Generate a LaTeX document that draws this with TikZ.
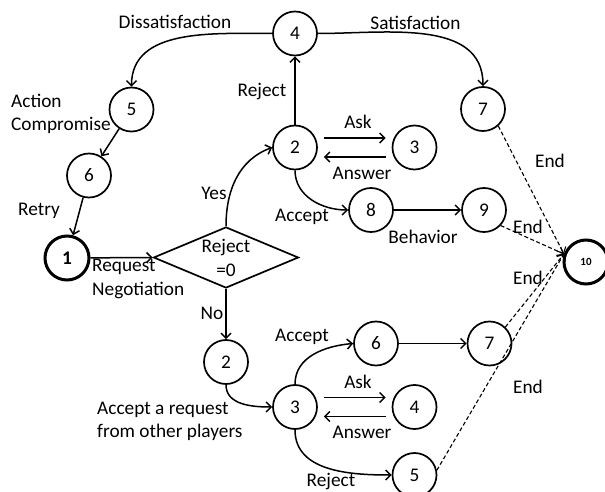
\documentclass[tikz,border=0pt]{standalone}
\usepackage{fontspec}
\setmainfont{Carlito}
\usetikzlibrary{shapes.geometric,arrows.meta}
\begin{document}
\begin{tikzpicture}[x=1pt,y=1pt,
  every node/.style={font=\fontsize{19.3}{23.5}\selectfont},
  st/.style={circle,draw,line width=1.7pt,minimum size=44pt,inner sep=0pt},
  stthick/.style={st,line width=3pt},
  lbl/.style={inner sep=0pt},
  arr/.style={line width=1.5pt,-{Straight Barb[length=5pt,width=10pt]}},
  dsh/.style={line width=1.1pt,dash pattern=on 4pt off 2.5pt,-{Straight Barb[length=5pt,width=10pt]}},
  ]
\useasboundingbox (0,0) rectangle (605,-492);
% states
\node[st] (n4) at (295,-33.5) {4};
\node[st] (n5) at (131.5,-109.5) {5};
\node[st] (n6) at (89,-175.5) {6};
\node[stthick,font=\bfseries\fontsize{19.3}{23.5}\selectfont] (n1) at (67,-258) {1};
\node[diamond,draw,line width=1.7pt,minimum width=145pt,minimum height=61pt,inner sep=0pt] (dia) at (226,-257.5) {};
\node[lbl,align=center] (dtext) at (226,-258) {Reject\\=0};
\node[st] (u2) at (295,-147.5) {2};
\node[st] (u3) at (414.5,-147.5) {3};
\node[st] (u7) at (483,-109) {7};
\node[st] (u8) at (371,-210) {8};
\node[st] (u9) at (484,-210) {9};
\node[stthick,font=\bfseries\fontsize{11}{13}\selectfont] (n10) at (586,-262) {10};
\node[st] (l2) at (226,-362) {2};
\node[st] (l3) at (295,-407) {3};
\node[st] (l4) at (414.5,-407) {4};
\node[st] (l5) at (414.5,-475) {5};
\node[st] (l6) at (376,-343.5) {6};
\node[st] (l7) at (489.5,-343.5) {7};
% labels
\node[lbl] (tDis) at (175,-22) {Dissatisfaction};
\node[lbl] (tSat) at (415.5,-23) {Satisfaction};
\node[lbl] (tRej1) at (262,-92) {Reject};
\node[lbl,anchor=west,align=left] (tAct) at (11,-114) {Action\\Compromise};
\node[lbl] (tRetry) at (39,-211) {Retry};
\node[lbl] (tYes) at (214,-193) {Yes};
\node[lbl] (tAsk1) at (358,-122) {Ask};
\node[lbl] (tAns1) at (362,-173) {Answer};
\node[lbl] (tAcc1) at (302,-217) {Accept};
\node[lbl] (tBeh) at (423,-237) {Behavior};
\node[lbl] (tEnd1) at (550,-161) {End};
\node[lbl] (tEnd2) at (528,-227) {End};
\node[lbl] (tEnd3) at (528,-278) {End};
\node[lbl] (tEnd4) at (528,-387) {End};
\node[lbl,anchor=west,align=left] (tReq) at (92,-279) {Request\\Negotiation};
\node[lbl] (tNo) at (212,-313) {No};
\node[lbl] (tAcc2) at (302,-337) {Accept};
\node[lbl] (tAsk2) at (358,-382) {Ask};
\node[lbl] (tAns2) at (362,-432) {Answer};
\node[lbl,anchor=west,align=left] (tAccReq) at (97,-421.5) {Accept a request\\from other players};
\node[lbl] (tRej2) at (331,-482) {Reject};
% connectors
\draw[arr] (n4.west) to[out=180,in=90] (n5.north);
\draw[arr] (n4.east) to[out=0,in=90] (u7.north);
\draw[arr] (n5) -- (n6);
\draw[arr] (n6) -- (n1);
\draw[arr] (n1) -- (dia.west);
\draw[arr] (dia.north) to[out=90,in=200] (u2.west);
\draw[arr] (u2) -- (n4);
\draw[arr] ([shift={(6,9.5)}]u2.east) -- ([shift={(-6,9.5)}]u3.west);
\draw[arr] ([shift={(-6,-9.5)}]u3.west) -- ([shift={(6,-9.5)}]u2.east);
\draw[arr] (u2.south) to[out=-90,in=180] (u8.west);
\draw[arr] (u8) -- (u9);
\draw[arr] (dia.south) -- (l2);
\draw[arr] (l2.south) to[out=-90,in=180] (l3.west);
\draw[arr] (l3.north) to[out=90,in=185] (l6.west);
\draw[arr] (l3.south) to[out=-90,in=180] (l5.west);
\draw[arr] (l6) -- (l7);
\draw[arr] ([shift={(6,9.5)}]l3.east) -- ([shift={(-6,9.5)}]l4.west);
\draw[arr] ([shift={(-6,-9.5)}]l4.west) -- ([shift={(6,-9.5)}]l3.east);
\draw[dsh] (u7.-48) -- (n10.160);
\draw[dsh] (u9.-43) -- (n10.160);
\draw[dsh] (l7.46) -- (n10.160);
\draw[dsh] (l5.12) -- (n10.160);
\end{tikzpicture}
\end{document}
